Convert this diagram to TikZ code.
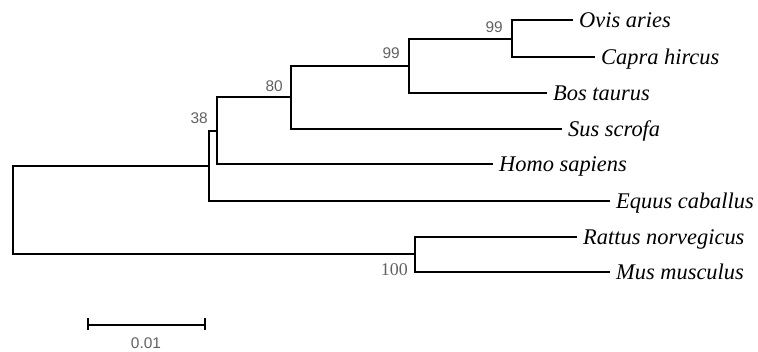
\documentclass[tikz,border=0pt]{standalone}
\usepackage{fontspec}
\setmainfont{Liberation Serif}
\newfontfamily\numfont{Liberation Sans}
\newfontfamily\serifnum{Liberation Serif}
\begin{document}
\begin{tikzpicture}[x=1bp,y=-1bp,
  branch/.style={line width=1.3bp,black,line join=miter},
  leaf/.style={anchor=west,inner xsep=6bp,inner ysep=0pt,text height=14bp,text depth=0bp,
    font=\fontsize{22.5}{24}\selectfont\itshape},
  boot/.style={anchor=base east,inner sep=0pt,text=black!62,font=\numfont\fontsize{15.5}{17}\selectfont},
  bootserif/.style={anchor=base east,inner sep=0pt,text=black!62,font=\serifnum\fontsize{18}{20}\selectfont}]
\useasboundingbox (0,0) rectangle (758,351);
% internal node attachment points
\coordinate (R) at (13,166);
\coordinate (A) at (209,166);
\coordinate (B) at (217,131);
\coordinate (C) at (291,97);
\coordinate (D) at (409,66);
\coordinate (E) at (512,39);
\coordinate (F) at (415,254);
% leaves
\node[leaf] (ovis)   at (573,20)  {Ovis aries};
\node[leaf] (capra)  at (595,57)  {Capra hircus};
\node[leaf] (bos)    at (547,93)  {Bos taurus};
\node[leaf] (sus)    at (562,129) {Sus scrofa};
\node[leaf] (homo)   at (493,164) {Homo sapiens};
\node[leaf] (equus)  at (610,201) {Equus caballus};
\node[leaf] (rattus) at (577,237) {Rattus norvegicus};
\node[leaf] (mus)    at (610,272) {Mus musculus};
% branches
\draw[branch] (ovis.west) -| (E) |- (capra.west);
\draw[branch] (E) -| (D) |- (bos.west);
\draw[branch] (D) -| (C) |- (sus.west);
\draw[branch] (C) -| (B) |- (homo.west);
\draw[branch] (B) -| (A) |- (equus.west);
\draw[branch] (rattus.west) -| (F) |- (mus.west);
\draw[branch] (A) -| (R |- 0,166) -- (13,254) -- (F);
% bootstrap values
\node[boot] (b99a) at (503,32)  {99};
\node[boot] (b99b) at (400,58)  {99};
\node[boot] (b80)  at (283,91)  {80};
\node[boot] (b38)  at (208,123) {38};
\node[bootserif] (b100) at (408,275) {100};
% scale bar
\coordinate (s1) at (88,325);
\coordinate (s2) at (205,325);
\draw[branch] (s1) -- (s2);
\draw[branch] ([yshift=-5bp]s1) -- ([yshift=7bp]s1);
\draw[branch] ([yshift=-5bp]s2) -- ([yshift=7bp]s2);
\node[boot,anchor=base] (scale) at (146,348) {0.01};
\end{tikzpicture}
\end{document}
